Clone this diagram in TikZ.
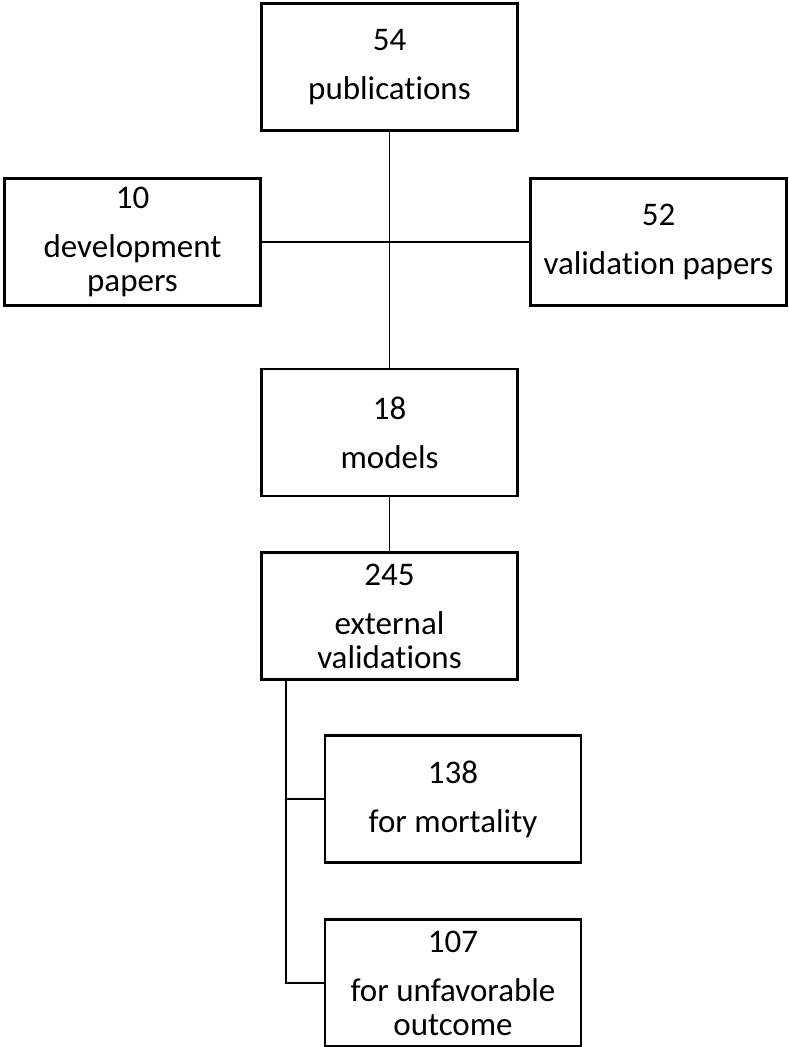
\documentclass[tikz,border=0pt]{standalone}
\usepackage{fontspec}
\setmainfont{Carlito}[Ligatures={NoCommon}]
\begin{document}
\begin{tikzpicture}[x=1pt,y=-1pt,
  box/.style={draw=black, line width=2.8pt, minimum width=256pt,
    minimum height=127pt, inner sep=0pt, align=center,
    font=\fontsize{33}{34}\selectfont},
  link/.style={draw=black, line width=1.3pt}]
  \useasboundingbox (0,0) rectangle (788,1047);

  % boxes
  \node[box] (pub)   at (389.5,67)   {54\\[15pt]publications};
  \node[box] (dev)   at (132.5,242)  {10\\[15pt]development\\papers};
  \node[box] (val)   at (658.5,242)  {52\\[15pt]validation papers};
  \node[box] (mod)   at (389.5,432.5) {18\\[15pt]models};
  \node[box] (ext)   at (389.5,616)  {245\\[15pt]external\\validations};
  \node[box] (mort)  at (453,799)    {138\\[15pt]for mortality};
  \node[box] (unfav) at (453,983)    {107\\[15pt]for unfavorable\\outcome};

  % connectors
  \coordinate (split) at (286,681);
  \path[link] (pub.south) -- (mod.north);
  \path[link] (dev.east) -- (val.west);
  \path[link] (mod.south) -- (ext.north);
  \path[link] (split) |- (mort.west);
  \path[link] (split) |- (unfav.west);
\end{tikzpicture}
\end{document}
